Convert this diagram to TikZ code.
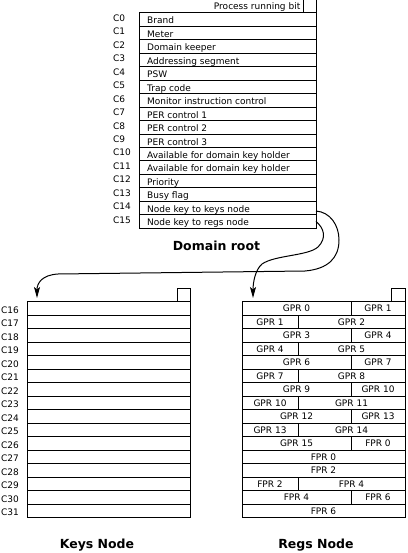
\documentclass[tikz,border=0pt]{standalone}
\usepackage{fontspec}
\setmainfont{DejaVu Sans}
\usetikzlibrary{arrows.meta}
\begin{document}
\begin{tikzpicture}[x=1pt,y=-1pt,
  cell/.style={draw, line width=1pt, rectangle, inner sep=0pt, outer sep=0pt, minimum height=13.45pt, anchor=north west, font=\fontsize{9}{10}\selectfont},
  sq/.style={draw, line width=1pt, rectangle, inner sep=0pt, outer sep=0pt, minimum size=13pt, anchor=south east},
  txt/.style={font=\fontsize{9}{10}\selectfont, inner sep=0pt, anchor=base west},
  lbl/.style={font=\fontsize{9}{10}\selectfont, inner sep=0pt, anchor=west},
  title/.style={font=\fontsize{12.5}{14}\selectfont\bfseries, inner sep=0pt, anchor=base},
  conn/.style={line width=1pt, -{Stealth[length=11pt,width=6pt,inset=2.5pt]}}]
\useasboundingbox (0,0) rectangle (407,553);

% ---------- Domain root ----------
\foreach \t [count=\i from 0] in {Brand, Meter, Domain keeper, Addressing segment, PSW, Trap code, Monitor instruction control, PER control 1, PER control 2, PER control 3, Available for domain key holder, Available for domain key holder, Priority, Busy flag, Node key to keys node, Node key to regs node} {
  \node[cell, minimum width=177pt] (d\i) at (139, {13+13.45*\i}) {};
  \node[txt] (dt\i) at (147, {13+13.45*\i+11}) {\t};
  \node[lbl] (dc\i) at (113, {13+13.45*\i+5.2}) {C\i};
}
\node[sq] (prb) at (d0.north east) {};
\node[txt, anchor=base east] (prbt) at (300.5, 10) {Process running bit};
\node[title] (droot) at (216.5, 250.5) {Domain root};

% ---------- Keys node ----------
\foreach \i in {0,...,15} {
  \node[cell, minimum width=163.5pt, minimum height=13.5pt] (k\i) at (27, {301.5+13.5*\i}) {};
  \pgfmathtruncatemacro{\c}{\i+16}
  \node[lbl] (kc\i) at (1, {301.5+13.5*\i+8.5}) {C\c};
}
\node[sq, minimum size=13.5pt] (ksq) at (k0.north east) {};
\node[title] (knode) at (97, 548) {Keys Node};

% ---------- Regs node ----------
\foreach \i/\a/\b in {0/GPR 0/GPR 1, 2/GPR 3/GPR 4, 4/GPR 6/GPR 7, 6/GPR 9/GPR 10, 8/GPR 12/GPR 13, 10/GPR 15/FPR 0, 14/FPR 4/FPR 6} {
  \node[cell, minimum width=109pt, minimum height=13.5pt] (rl\i) at (242, {301.5+13.5*\i}) {\a};
  \node[cell, minimum width=54pt, minimum height=13.5pt] (rr\i) at (351, {301.5+13.5*\i}) {\b};
}
\foreach \i/\a/\b in {1/GPR 1/GPR 2, 3/GPR 4/GPR 5, 5/GPR 7/GPR 8, 7/GPR 10/GPR 11, 9/GPR 13/GPR 14, 13/FPR 2/FPR 4} {
  \node[cell, minimum width=56pt, minimum height=13.5pt] (rl\i) at (242, {301.5+13.5*\i}) {\a};
  \node[cell, minimum width=107pt, minimum height=13.5pt] (rr\i) at (298, {301.5+13.5*\i}) {\b};
}
\foreach \i/\a in {11/FPR 0, 12/FPR 2, 15/FPR 6} {
  \node[cell, minimum width=163pt, minimum height=13.5pt] (rf\i) at (242, {301.5+13.5*\i}) {\a};
}
\node[sq, minimum size=13.5pt] (rsq) at (rr0.north east) {};
\node[title] (rnode) at (316, 548) {Regs Node};

% ---------- connectors ----------
\coordinate (ktip) at (37, 298);
\coordinate (rtip) at (253, 298);
\draw[conn] ([yshift=-3pt]d14.east) .. controls (330,212) and (339,225) .. (339,240)
  .. controls (339,258) and (328,269) .. (305,271) -- (58,274)
  .. controls (42,275) and (37,283) .. (ktip);
\draw[conn] (d15.east) .. controls (324,228) and (327,238) .. (318,247)
  .. controls (308,256) and (275,255) .. (262,264)
  .. controls (255,270) and (253,283) .. (rtip);
\end{tikzpicture}
\end{document}
